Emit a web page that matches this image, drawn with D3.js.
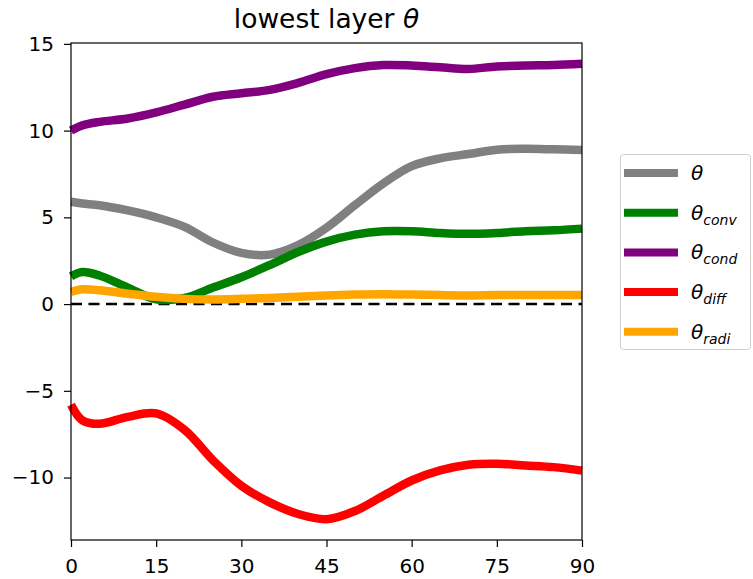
<!DOCTYPE html>
<html>
<head>
<meta charset="utf-8">
<script src="https://cdn.jsdelivr.net/npm/d3@7"></script>
<style>
  body { margin: 0; background: #fff; }
  text { font-family: "DejaVu Sans", sans-serif; fill: #000; }
</style>
</head>
<body>
<div id="chart"></div>
<script>
// latitude points (shared by every series)
var lat = [0, 2, 5, 10, 15, 20, 25, 30, 35, 40, 45, 50, 55, 60, 65, 70, 75, 80, 85, 90];

// series values
var theta     = [5.9, 5.8, 5.7, 5.4, 5.0, 4.45, 3.55, 2.95, 2.85, 3.4, 4.4, 5.7, 6.95, 7.95, 8.4, 8.65, 8.9, 8.95, 8.92, 8.88];
var thetaConv = [1.6, 1.85, 1.65, 0.95, 0.28, 0.35, 0.95, 1.55, 2.25, 3.0, 3.6, 4.0, 4.2, 4.2, 4.1, 4.05, 4.1, 4.2, 4.25, 4.35];
var thetaCond = [10.0, 10.3, 10.5, 10.7, 11.05, 11.5, 11.95, 12.15, 12.35, 12.75, 13.25, 13.6, 13.78, 13.75, 13.65, 13.55, 13.7, 13.75, 13.78, 13.85];
var thetaDiff = [-5.8, -6.7, -6.9, -6.5, -6.3, -7.25, -9.0, -10.47, -11.43, -12.1, -12.4, -11.93, -11.05, -10.17, -9.59, -9.26, -9.2, -9.3, -9.4, -9.6];
var thetaRadi = [0.7, 0.85, 0.8, 0.6, 0.42, 0.3, 0.27, 0.3, 0.35, 0.42, 0.5, 0.55, 0.57, 0.55, 0.52, 0.5, 0.52, 0.52, 0.52, 0.52];

var seriesNames = ["", "conv", "cond", "diff", "radi"];
var seriesColors = ["#808080", "#008000", "#800080", "#ff0000", "#ffa500"];
var seriesValues = [theta, thetaConv, thetaCond, thetaDiff, thetaRadi];

var xTicks = [0, 15, 30, 45, 60, 75, 90];
var yTicks = [-10, -5, 0, 5, 10, 15];

var width = 753, height = 579;
var plotLeft = 71, plotRight = 582, plotTop = 43, plotBottom = 540;

var svg = d3.select("#chart").append("svg")
  .attr("width", width)
  .attr("height", height);

var x = d3.scaleLinear().domain([0, 90]).range([plotLeft, plotRight]);
var y = d3.scaleLinear().domain([-13.6, 15.05]).range([plotBottom, plotTop]);

// zero line (sits under the curves)
svg.append("line")
  .attr("x1", x(0)).attr("x2", x(90))
  .attr("y1", y(0)).attr("y2", y(0))
  .attr("stroke", "#000")
  .attr("stroke-width", 2.5)
  .attr("stroke-dasharray", "11,6.5");

// lines
var line = d3.line()
  .x(function(d, i) { return x(lat[i]); })
  .y(function(d) { return y(d); })
  .curve(d3.curveCatmullRom.alpha(0.5));

svg.selectAll(".series")
  .data(seriesValues)
  .enter()
  .append("path")
    .attr("class", "series")
    .attr("d", line)
    .attr("fill", "none")
    .attr("stroke", function(d, i) { return seriesColors[i]; })
    .attr("stroke-width", 8.5)
    .attr("stroke-linejoin", "round");

// axes
var xAxis = svg.append("g")
  .attr("transform", "translate(0," + plotBottom + ")")
  .call(d3.axisBottom(x).tickValues(xTicks).tickSize(7).tickPadding(12));

var yAxis = svg.append("g")
  .attr("transform", "translate(" + plotLeft + ",0)")
  .call(d3.axisLeft(y).tickValues(yTicks).tickSize(7).tickPadding(10)
    .tickFormat(function(d) { return d < 0 ? "\u2212" + Math.abs(d) : d; }));

[xAxis, yAxis].forEach(function(a) {
  a.select(".domain").remove();
  a.selectAll("line").attr("stroke", "#000").attr("stroke-width", 1.2);
  a.selectAll("text").style("font-family", "DejaVu Sans").style("font-size", "20px").attr("fill", "#222");
});

// frame
svg.append("rect")
  .attr("x", plotLeft).attr("y", plotTop)
  .attr("width", plotRight - plotLeft).attr("height", plotBottom - plotTop)
  .attr("fill", "none")
  .attr("stroke", "#000")
  .attr("stroke-width", 1.2);

// title
var title = svg.append("text")
  .attr("x", (plotLeft + plotRight) / 2)
  .attr("y", 28)
  .attr("text-anchor", "middle")
  .style("font-size", "26.5px")
  .attr("fill", "#222");
title.append("tspan").text("lowest layer ");
title.append("tspan").attr("font-style", "italic").text("\u03b8");

// legend
var legend = svg.append("g");
legend.append("rect")
  .attr("x", 620.5).attr("y", 154.5)
  .attr("width", 130).attr("height", 195)
  .attr("rx", 3)
  .attr("fill", "#fff")
  .attr("stroke", "#d0d0d0")
  .attr("stroke-width", 1);

var entries = legend.selectAll(".entry")
  .data(seriesNames)
  .enter()
  .append("g")
    .attr("transform", function(d, i) { return "translate(0," + (173 + i * 39.7) + ")"; });

entries.append("line")
  .attr("x1", 624).attr("x2", 678)
  .attr("y1", 0).attr("y2", 0)
  .attr("stroke", function(d, i) { return seriesColors[i]; })
  .attr("stroke-width", 8);

var lt = entries.append("text")
  .attr("x", 691)
  .attr("y", 7)
  .style("font-size", "20px")
  .attr("fill", "#222");
lt.append("tspan").attr("font-style", "italic").text("\u03b8");
lt.append("tspan")
  .attr("font-style", "italic")
  .attr("dy", 5)
  .style("font-size", "14px")
  .text(function(d) { return d; });
</script>
</body>
</html>
